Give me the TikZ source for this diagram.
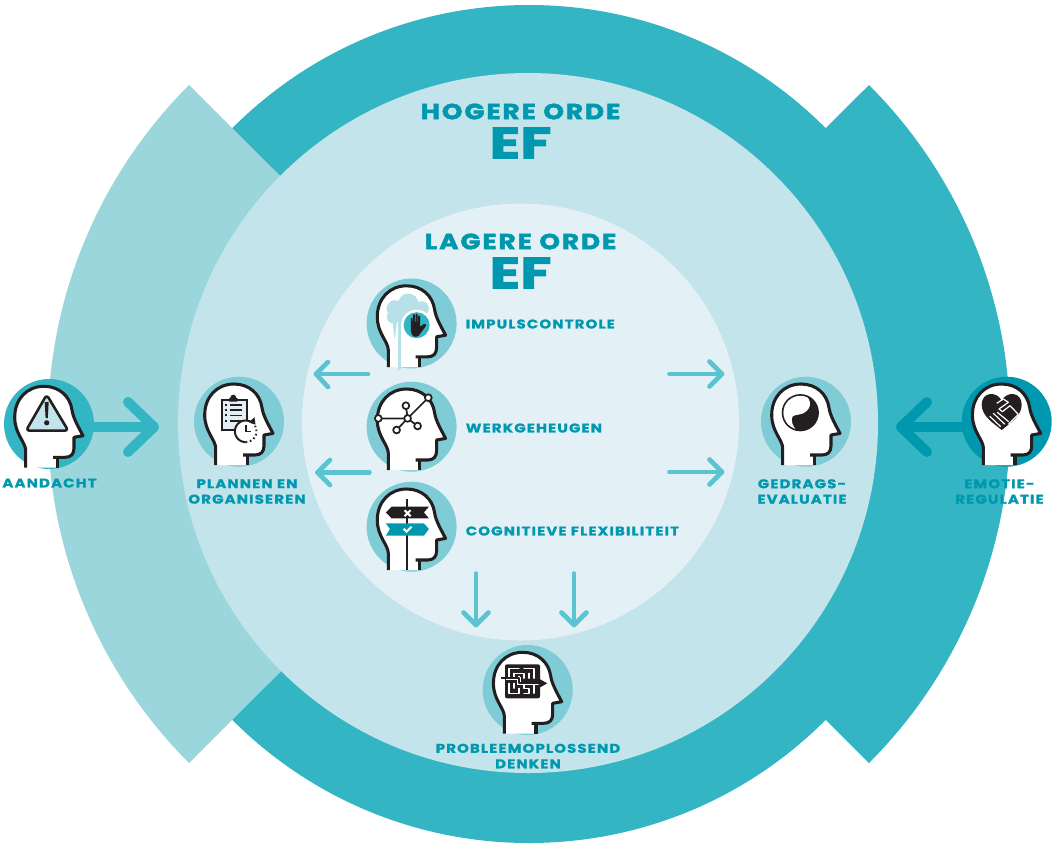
\documentclass[tikz,border=0pt]{standalone}
\usepackage{fontspec}
\newfontfamily\lab[LetterSpace=9,FakeStretch=1.18,BoldFeatures={FakeBold=1.1}]{Poppins}
\newfontfamily\ttl[LetterSpace=9,FakeStretch=1.2,BoldFeatures={FakeBold=2.2}]{Poppins}
\newfontfamily\eff[LetterSpace=1,FakeStretch=1.28,BoldFeatures={FakeBold=2.4}]{Poppins}
\definecolor{ink}{HTML}{231F20}
\definecolor{ringc}{HTML}{33B5C4}
\definecolor{wedge}{HTML}{9BD6DD}
\definecolor{midc}{HTML}{C3E4EA}
\definecolor{innc}{HTML}{E3F1F6}
\definecolor{disc}{HTML}{7FCBD6}
\definecolor{deep}{HTML}{0098AE}
\definecolor{sarr}{HTML}{5CC4D0}
\definecolor{pale}{HTML}{B8E0E8}
\tikzset{
 lbl/.style={font=\lab\bfseries\fontsize{9.5}{11.6}\selectfont,text=deep,align=center,inner sep=0pt},
 hdl/.style={font=\ttl\bfseries\fontsize{16.4}{16.4}\selectfont,text=deep,inner sep=0pt},
 efl/.style={font=\eff\bfseries\fontsize{33}{33}\selectfont,text=deep,inner sep=0pt},
 bigarrow/.style={line width=7.5pt,line cap=round,line join=round},
 smallarrow/.style={sarr,line width=3.5pt,line cap=round,line join=round},
 headline/.style={ink,line width=2.3pt,line join=round},
 thin/.style={ink,line width=1.3pt},
}
\newcommand{\headshape}{(-23.3,43.5) -- (-23.3,26.7) .. controls (-23.3,18) and (-34.3,10) .. (-34.3,-6.7)
  .. controls (-34.3,-25) and (-22,-37.7) .. (-5,-37.7)
  .. controls (10,-37.7) and (21,-28) .. (23,-14)
  .. controls (24,-6) and (30,4) .. (34,11.7)
  -- (25,13.3) -- (25,24) .. controls (25,30) and (22,33.3) .. (16,33.3) -- (4,33.3)}
\newcommand{\headbase}[1]{%
  \fill[#1] (0,0) circle[radius=45];
  \fill[white] (-23.3,43.5) -- (-23.3,26.7) .. controls (-23.3,18) and (-34.3,10) .. (-34.3,-6.7)
  .. controls (-34.3,-25) and (-22,-37.7) .. (-5,-37.7)
  .. controls (10,-37.7) and (21,-28) .. (23,-14)
  .. controls (24,-6) and (30,4) .. (34,11.7)
  -- (25,13.3) -- (25,24) .. controls (25,30) and (22,33.3) .. (16,33.3) -- (8.3,33.3) -- (8.3,43.5) -- cycle;
}
\newcommand{\headstroke}{%
  \draw[headline] \headshape;
  \draw[headline] (8.3,33.3) -- (8.3,43.5);
}
\begin{document}
\begin{tikzpicture}[x=0.75pt,y=-0.75pt]
\useasboundingbox (0,0) rectangle (1056,843);
% side wedges
\fill[ringc] (529,424) -- (869,85) .. controls (959,175) and (1010,297) .. (1010,424) .. controls (1010,551) and (959,673) .. (869,763) -- cycle;
\fill[ringc] (529,424) circle[radius=419];
\fill[wedge] (529,424) -- (189,85) .. controls (99,175) and (48,297) .. (48,424) .. controls (48,551) and (99,673) .. (189,763) -- cycle;
\fill[midc] (528,423) circle[radius=350];
\fill[innc] (520.5,422) circle[radius=218.5];
% titles
\node[hdl] (t1) at (520.5,111.5) {HOGERE ORDE};
\node[efl] (t2) at (520.5,143) {EF};
\node[hdl] (t3) at (520.5,241.5) {LAGERE ORDE};
\node[efl] (t4) at (520.5,273) {EF};
% small arrows
\draw[smallarrow] (368,374) -- (316,374);
\draw[smallarrow] (328,362) -- (316,374) -- (328,387);
\draw[smallarrow] (369.5,472.5) -- (317.5,472.5);
\draw[smallarrow] (330,460) -- (317.5,472.5) -- (330,485);
\draw[smallarrow] (669.5,374) -- (722,374);
\draw[smallarrow] (709.5,361.5) -- (722,374) -- (709.5,386.5);
\draw[smallarrow] (669.5,472) -- (722,472);
\draw[smallarrow] (709.5,459.5) -- (722,472) -- (709.5,484.5);
\draw[smallarrow] (476,573.5) -- (476,625);
\draw[smallarrow] (463.5,612.5) -- (476,625) -- (488.5,612.5);
\draw[smallarrow] (574,573.5) -- (574,625);
\draw[smallarrow] (561.5,612.5) -- (574,625) -- (586.5,612.5);
% big arrows
\draw[bigarrow,ringc] (80,427) -- (154,427);
\draw[bigarrow,ringc] (128,402) -- (154,427) -- (128,452);
\draw[bigarrow,deep] (965,427) -- (901,427);
\draw[bigarrow,deep] (927,402) -- (901,427) -- (927,452);
% IMPULS
\begin{scope}[shift={(411.6,323.5)}]
 \headbase{disc}
 \fill[pale] (-16.7,-15) circle[radius=8.3] (-3.3,-20) circle[radius=10] (10,-15) circle[radius=7.3] (-18,-6.7) circle[radius=6.7] (-5,-8.3) circle[radius=10];
 \fill[pale] (-13.5,-10) rectangle (-11,46.5);
 \fill[pale] (-19,-2) -- (-14.5,-2) -- (-16.6,14) -- (-17.4,14) -- cycle;
 \fill[white] (5,1.7) circle[radius=15.5];
 \fill[ringc] (5,1.7) circle[radius=13];
 \fill[ink,rounded corners=0.8pt] (-0.8,1) -- (-0.8,-6) -- (0.9,-6) -- (0.9,-1) -- (1.4,-1) -- (1.4,-9.5) -- (3.3,-9.5) -- (3.3,-1) -- (3.9,-1) -- (3.9,-10) -- (5.9,-10) -- (5.9,-1) -- (6.5,-1) -- (6.5,-8) -- (8.5,-8) -- (8.5,3.5) -- (12.5,0) -- (15,1.5) -- (9.5,9) -- (6.5,13) -- (1.5,13) -- (-0.8,8) -- cycle;
 \headstroke
\end{scope}
% WERK
\begin{scope}[shift={(411.6,426.7)}]
 \headbase{disc}
 \headstroke
 \draw[thin] (-33.3,-8.3) -- (-4,-8.3) -- (16.7,-29) (-4,-8.3) -- (-5.7,-21) (-4,-8.3) -- (-15,3.3) (-4,-8.3) -- (6,-0.7);
 \foreach \p in {(-33.3,-8.3),(-4,-8.3),(16.7,-29),(-5.7,-21),(-15,3.3),(6,-0.7)} \draw[thin,fill=white] \p circle[radius=3.4];
\end{scope}
% COGN
\begin{scope}[shift={(411.6,526.7)}]
 \headbase{disc}
 \fill[ink] (-5.2,-28) rectangle (-3.2,43.5);
 \fill[ink] (-25.7,-14.3) -- (-20,-20) -- (17.3,-20) -- (12.3,-14.3) -- (17.3,-8.3) -- (-20,-8.3) -- cycle;
 \fill[deep] (-25.7,-3.3) -- (12.3,-3.3) -- (17.3,2.3) -- (12.3,9) -- (-25.7,9) -- (-21.7,2.3) -- cycle;
 \draw[white,line width=1.5pt] (-7,-16.5) -- (-1,-10.5) (-7,-10.5) -- (-1,-16.5);
 \draw[white,line width=1.5pt] (-8,2) -- (-5,5) -- (0,0);
 \headstroke
\end{scope}
% AANDACHT
\begin{scope}[shift={(49,424)}]
 \headbase{ringc}
 \draw[ink,line width=1.9pt,fill=midc,line join=round,rounded corners=2.5pt] (-2.3,-29.3) -- (-23,6.7) -- (19.3,6.7) -- cycle;
 \fill[ink] (-4.3,-22) -- (-0.3,-22) -- (-1.2,-6) -- (-3.4,-6) -- cycle;
 \fill[ink] (-2.3,-1.2) circle[radius=2.6];
 \headstroke
\end{scope}
% PLANNEN
\begin{scope}[shift={(239,421.7)}]
 \headbase{disc}
 \draw[ink,line width=1.3pt,fill=innc] (-17.3,-22) rectangle (7.7,8);
 \fill[ink,rounded corners=1pt] (-10.7,-23.5) rectangle (-0.7,-20);
 \fill[ink] (-5.7,-24) circle[radius=3];
 \foreach \y in {-17,-11.8,-6.4,-0.8}{ \fill[ink] (-14.2,\y-1.1) rectangle (-11.6,\y+1.1);
   \draw[ink,line width=1.2pt] (-9,\y) -- (2.7,\y); }
 \fill[white] (6.7,9.6) circle[radius=11.5];
 \draw[ink,line width=1.5pt] plot[domain=90:310,samples=36] ({6.7+10.8*cos(\x)},{9.6+10.8*sin(\x)});
 \fill[ink] (15.5,-4.5) -- (16.5,3) -- (10,0.5) -- cycle;
 \draw[ink,line width=1.5pt,dash pattern=on 1.2pt off 2pt] plot[domain=90:-30,samples=20] ({6.7+10.8*cos(\x)},{9.6+10.8*sin(\x)});
 \draw[ink,line width=1.4pt] (6.7,2.8) -- (6.7,9.8) -- (12.4,9.8);
 \headstroke
\end{scope}
% GEDRAGS
\begin{scope}[shift={(806,421.7)}]
 \headbase{disc}
 \fill[ink] (-5.7,-9) circle[radius=18.6];
 \begin{scope}
  \clip (-5.7,-9) circle[radius=16.9];
  \fill[white] (-5.3,-28) .. controls (5,-26) and (8,-14) .. (-2.7,-8.4) .. controls (-8,-6) and (-15,-8) .. (-14.3,-1.7) .. controls (-14,3) and (-11,8) .. (-7.7,10) -- (-30,10) -- (-30,-30) -- cycle;
 \end{scope}
 \headstroke
\end{scope}
% EMOTIE
\begin{scope}[shift={(1006.7,421.7)}]
 \headbase{deep}
 \fill[ink] (-5,8.3) .. controls (-14,1) and (-25,-6) .. (-25,-17) .. controls (-25,-30) and (-10,-31) .. (-5,-21) .. controls (0,-31) and (15,-30) .. (15,-17) .. controls (15,-6) and (4,1) .. (-5,8.3) -- cycle;
 \draw[white,line width=0.9pt,line join=round] (-10,-18.4) -- (-3.4,-22.7) -- (1.6,-19.4) -- (-7.7,-12.7) -- (-4.4,-10) -- (3.3,-16) -- (11.6,-7.4) -- (1.6,2.6);
 \draw[white,line width=0.9pt] (-17,-5.5) -- (-6,5) (-13.5,-8.5) -- (-2,2.5) (-9.5,-9.5) -- (2,0);
 \headstroke
\end{scope}
% PROBLEEM
\begin{scope}[shift={(527.7,690)}]
 \headbase{disc}
 \fill[ink,rounded corners=1.5pt] (-22.7,-25.7) rectangle (12.3,8.3);
 \begin{scope}[shift={(-18.7,-21.7)},x=3.75pt,y=-3.75pt]
  \draw[white,line width=0.85pt,line join=round,line cap=round]
   (0,2) -- (0,0) -- (2,0) (3,0) -- (5,0) -- (5,2)
   (1,1) -- (3,1) -- (3,2) (4,1) -- (4,2) (1,1) -- (1,2) (2,1.6) -- (2,2)
   (0,3) -- (0,5) -- (2,5) -- (2,4) (1,3) -- (1,4) (2,3) -- (3,3) -- (3,4) -- (4,4) -- (4,5) -- (3,5)
   (4,3) -- (5,3) -- (5,5);
 \end{scope}
 \draw[white,line width=2.4pt] (-22,-11.7) -- (-8.7,-11.7) -- (-8.7,-6.7) -- (12,-6.7);
 \draw[ink,line width=1.5pt,line join=round] (-26.5,-11.7) -- (-8.7,-11.7) -- (-8.7,-6.7) -- (13,-6.7);
 \fill[ink] (11,-11.5) -- (19.5,-6.7) -- (11,-1.9) -- cycle;
 \headstroke
\end{scope}
% labels
\node[lbl,anchor=west] (l1) at (465.5,324) {IMPULSCONTROLE};
\node[lbl,anchor=west] (l2) at (465.5,428) {WERKGEHEUGEN};
\node[lbl,anchor=west] (l3) at (465.5,531) {COGNITIEVE FLEXIBILITEIT};
\node[lbl] (l4) at (49.5,483) {AANDACHT};
\node[lbl] (l5) at (247,491.5) {PLANNEN EN\\ORGANISEREN};
\node[lbl] (l6) at (802,491.5) {GEDRAGS-\\EVALUATIE};
\node[lbl] (l7) at (999.5,491.5) {EMOTIE-\\REGULATIE};
\node[lbl] (l8) at (528,756) {PROBLEEMOPLOSSEND\\DENKEN};
\end{tikzpicture}
\end{document}
